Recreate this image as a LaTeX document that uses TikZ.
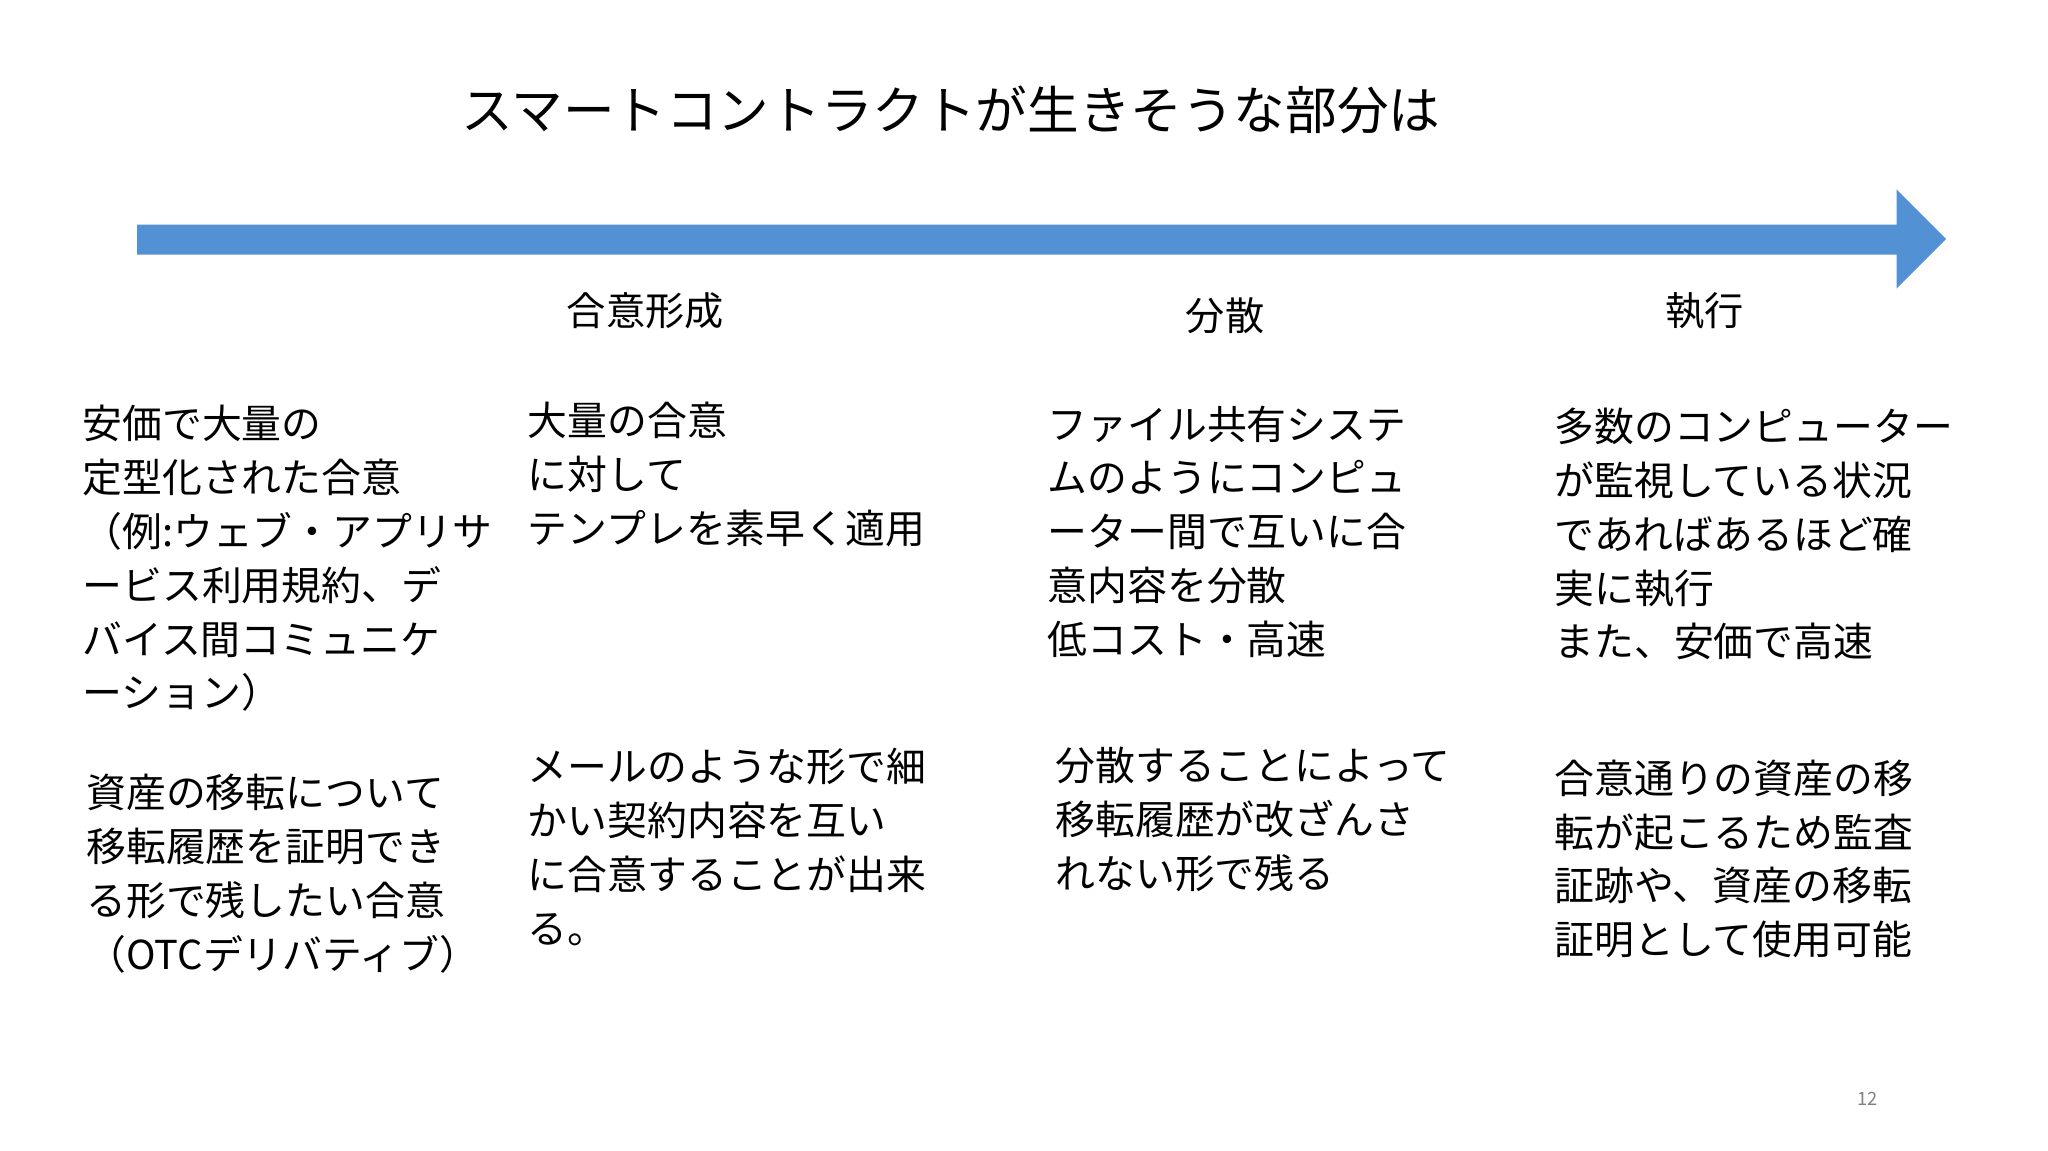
\documentclass[tikz,border=0pt]{standalone}
\usepackage{fontspec}
\setmainfont{Noto Sans CJK JP}
\begin{document}
\begin{tikzpicture}[x=1pt,y=-1pt,
  body/.style={anchor=base west,inner sep=0,align=left,font=\fontsize{30.5}{41.2}\selectfont},
  head/.style={inner sep=0,font=\fontsize{30}{36}\selectfont}]
\useasboundingbox (0,0) rectangle (1568,881);
\node[inner sep=0,font=\fontsize{39.5}{46}\selectfont] (title) at (728,84) {スマートコントラクトが生きそうな部分は};
\fill[fill={rgb,255:red,83;green,145;blue,213}] (105,172) -- (1452,172) -- (1452,145) -- (1490,183) -- (1452,221) -- (1452,195) -- (105,195) -- cycle;
\node[head] (h1) at (494,238) {合意形成};
\node[head] (h2) at (938,242) {分散};
\node[head] (h3) at (1305,238) {執行};
\node[body] (a1) at (63,542) {安価で大量の\\定型化された合意\\（例:ウェブ・アプリサ\\ービス利用規約、デ\\バイス間コミュニケ\\ーション）};
\node[body] (a2) at (66,742) {資産の移転について\\移転履歴を証明でき\\る形で残したい合意\\（OTCデリバティブ）};
\node[body] (b1) at (404,416) {大量の合意\\に対して\\テンプレを素早く適用};
\node[body] (b2) at (404,722) {メールのような形で細\\かい契約内容を互い\\に合意することが出来\\る。};
\node[body] (c1) at (802,501) {ファイル共有システ\\ムのようにコンピュ\\ーター間で互いに合\\意内容を分散\\低コスト・高速};
\node[body] (c2) at (808,680) {分散することによって\\移転履歴が改ざんさ\\れない形で残る};
\node[body] (d1) at (1190,503) {多数のコンピューター\\が監視している状況\\であればあるほど確\\実に執行\\また、安価で高速};
\node[body] (d2) at (1190,731) {合意通りの資産の移\\転が起こるため監査\\証跡や、資産の移転\\証明として使用可能};
\node[inner sep=0,text=gray,font=\fontsize{14}{16}\selectfont] (pg) at (1430,841) {12};
\end{tikzpicture}
\end{document}
